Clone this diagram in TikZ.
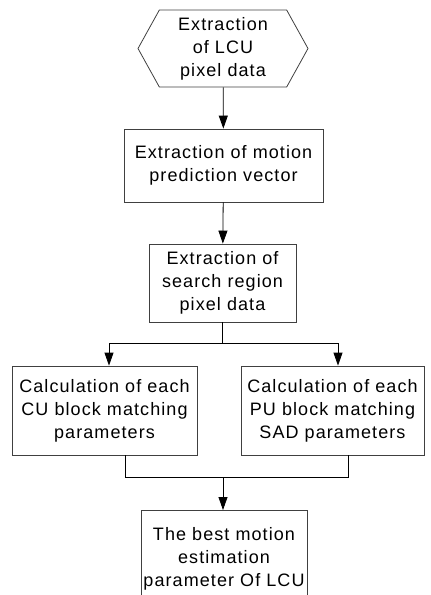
\documentclass[tikz,border=0pt]{standalone}
\usepackage{fontspec}
\setmainfont[LetterSpace=6]{Liberation Sans}
\usetikzlibrary{arrows.meta,shapes.symbols}

\begin{document}
\begin{tikzpicture}[x=1pt,y=-1pt,
  blk/.style={draw=black!75, line width=0.8pt, rectangle, align=center,
    inner sep=0pt, font=\fontsize{18}{23}\selectfont},
  arr/.style={-{Triangle[length=13pt,width=9pt]}, line width=0.8pt}]

\useasboundingbox (0,0) rectangle (431,595);
\clip (0,0) rectangle (431,595);

% Boxes
\node[blk, shape=signal, signal to=west and east, signal pointer angle=122,
  minimum width=170, minimum height=77] (lcu) at (223,48.5)
  {Extraction\\of LCU\\pixel data};
\node[blk, minimum width=199, minimum height=73] (motion) at (223.5,165.5)
  {Extraction of motion\\prediction vector};
\node[blk, minimum width=147, minimum height=78] (region) at (222.5,283)
  {Extraction of\\search region\\pixel data};
\node[blk, minimum width=185, minimum height=89] (cu) at (104.5,410.5)
  {Calculation of each\\CU block matching\\parameters};
\node[blk, minimum width=183, minimum height=89] (pu) at (332.5,410.5)
  {Calculation of each\\PU block matching\\SAD parameters};
\node[blk, minimum width=166, minimum height=110, anchor=north] (best) at (224,510)
  {\\[-38pt]The best motion\\estimation\\parameter Of LCU};

% Split and join points
\coordinate (split) at (222.5,343);
\coordinate (splitL) at (109,343);
\coordinate (splitR) at (338,343);
\coordinate (join) at (223,477);
\coordinate (joinL) at (125,477);
\coordinate (joinR) at (348,477);

% Connectors
\draw[arr] (lcu) -- (motion);
\draw[arr] (motion) -- (region);
\draw (region) -- (split);
\draw[arr] (split) -- (splitL) -- (splitL |- cu.north);
\draw[arr] (split) -- (splitR) -- (splitR |- pu.north);
\draw (cu.south -| joinL) -- (joinL) -- (joinR) -- (pu.south -| joinR);
\draw[arr] (join) -- (join |- best.north);

\end{tikzpicture}
\end{document}
